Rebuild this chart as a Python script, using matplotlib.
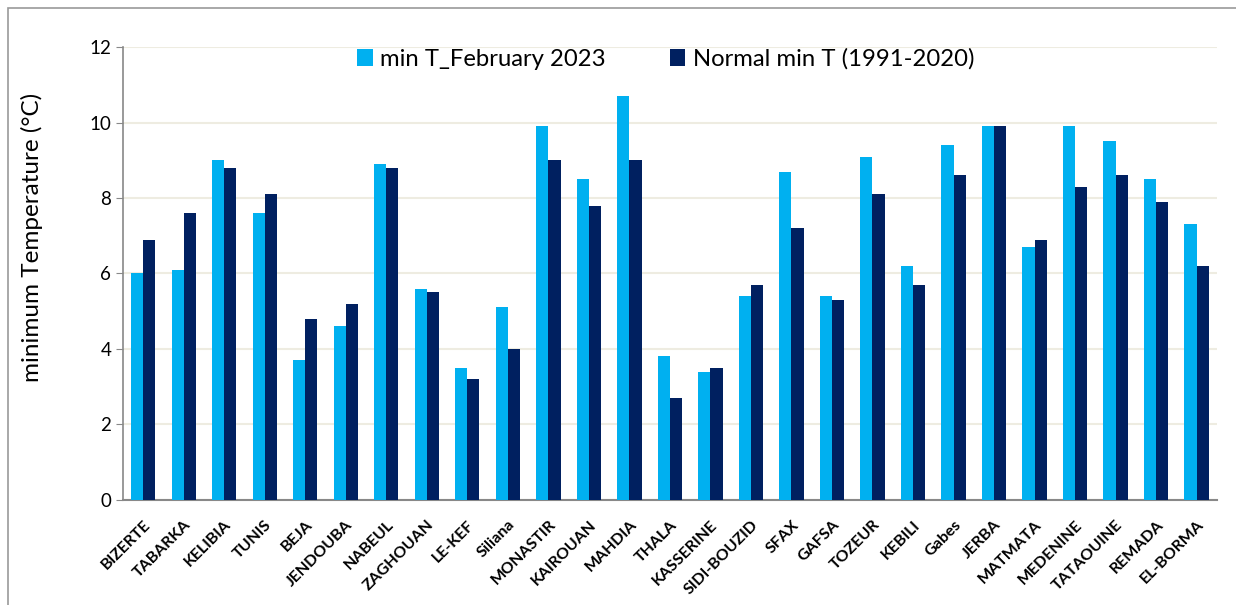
import numpy as np
import matplotlib.pyplot as plt
from matplotlib.patches import Rectangle

stations = ['BIZERTE', 'TABARKA', 'KELIBIA', 'TUNIS', 'BEJA', 'JENDOUBA', 'NABEUL',
            'ZAGHOUAN', 'LE-KEF', 'Siliana', 'MONASTIR', 'KAIROUAN', 'MAHDIA', 'THALA',
            'KASSERINE', 'SIDI-BOUZID', 'SFAX', 'GAFSA', 'TOZEUR', 'KEBILI', 'Gabes',
            'JERBA', 'MATMATA', 'MEDENINE', 'TATAOUINE', 'REMADA', 'EL-BORMA']
feb2023 = [6.0, 6.1, 9.0, 7.6, 3.7, 4.6, 8.9, 5.6, 3.5, 5.1, 9.9, 8.5, 10.7, 3.8,
           3.4, 5.4, 8.7, 5.4, 9.1, 6.2, 9.4, 9.9, 6.7, 9.9, 9.5, 8.5, 7.3]
normal = [6.9, 7.6, 8.8, 8.1, 4.8, 5.2, 8.8, 5.5, 3.2, 4.0, 9.0, 7.8, 9.0, 2.7,
          3.5, 5.7, 7.2, 5.3, 8.1, 5.7, 8.6, 9.9, 6.9, 8.3, 8.6, 7.9, 6.2]
yticks = [0, 2, 4, 6, 8, 10, 12]

plt.rcParams['font.family'] = ['Lato', 'DejaVu Sans']

fig = plt.figure(figsize=(12.36, 6.05), dpi=100)
ax = fig.add_axes([0.0995, 0.174, 0.885, 0.748])

x = np.arange(len(stations))
w = 0.3
ax.bar(x - w / 2, feb2023, w, color='#00B0F0', label='min T_February 2023', zorder=3)
ax.bar(x + w / 2, normal, w, color='#002060', label='Normal min T (1991-2020)', zorder=3)

ax.set_xlim(-0.5, len(stations) - 0.5)
ax.set_ylim(0, 12)
ax.set_yticks(yticks)
ax.tick_params(axis='y', labelsize=13.5, length=5, color='#888888')
ax.tick_params(axis='x', length=0, pad=13)
ax.set_xticks(x)
ax.set_xticklabels(stations, rotation=45, ha='right', rotation_mode='anchor',
                   fontsize=11.5, fontweight='bold')
ax.grid(axis='y', color='#EEECE1', lw=1.5, zorder=0)
for s in ['top', 'right']:
  ax.spines[s].set_visible(False)
ax.spines['left'].set_color('#888888')
ax.spines['bottom'].set_color('#888888')
ax.spines['left'].set_linewidth(1.2)
ax.spines['bottom'].set_linewidth(1.5)
ax.set_ylabel('minimum Temperature (°C)', fontsize=17.5)
ax.yaxis.set_label_coords(-0.073, 0.58)

ax.legend(loc='upper center', bbox_to_anchor=(0.496, 1.045), ncol=2, frameon=False,
          fontsize=17.2, handlelength=0.65, handleheight=0.7, columnspacing=2.7,
          handletextpad=0.3)

fig.patches.append(Rectangle((8 / 1236, -0.1), 1.2, 1.1 - 8 / 605, transform=fig.transFigure,
                             fill=False, edgecolor='#999999', lw=1.2))

plt.savefig('out.png')
